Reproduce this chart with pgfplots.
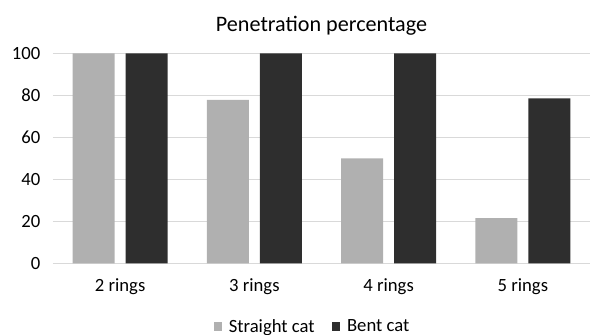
\documentclass[border=0pt]{standalone}
\usepackage{pgfplots}
\pgfplotsset{compat=1.18}
\usepackage{fontspec}
\setmainfont{Carlito}
\definecolor{lightbar}{HTML}{B0B0B0}
\definecolor{darkbar}{HTML}{2E2E2E}
\definecolor{gridc}{HTML}{D9D9D9}
\begin{document}
\begin{tikzpicture}
\begin{axis}[
  name=ax,
  scale only axis,
  width=402.75pt, height=157.5pt,
  xmin=-0.5, xmax=3.5, ymin=0, ymax=100,
  ytick={0,20,...,100},
  xtick={0,1,2,3},
  xticklabels={2 rings,3 rings,4 rings,5 rings},
  axis x line*=bottom,
  axis y line*=left,
  x axis line style={gridc, line width=0.9pt, -},
  y axis line style={draw=none},
  ymajorgrids, grid style={gridc, line width=0.9pt},
  major tick length=0pt,
  tick label style={font=\fontsize{14}{16}\selectfont, text=black},
  yticklabel style={xshift=-6pt},
  xticklabel style={yshift=-8pt},
  /pgf/number format/assume math mode=true,
  ybar, bar width=0.313,
  title={Penetration percentage},
  title style={font=\fontsize{16.6}{19}\selectfont, yshift=4pt},
  legend style={at={(0.484,-0.24)}, anchor=north, draw=none, legend columns=2,
    font=\fontsize{14}{16}\selectfont, /tikz/every even column/.append style={column sep=11pt},
    /tikz/every odd column/.append style={column sep=3pt}},
  legend image code/.code={\fill[#1] (0pt,-3pt) rectangle (6.3pt,3.5pt);},
]
\addplot[draw=none, fill=lightbar, bar shift=-0.198] coordinates {(0,100) (1,77.8) (2,50) (3,21.5)};
\addplot[draw=none, fill=darkbar, bar shift=0.198] coordinates {(0,100) (1,100) (2,100) (3,78.6)};
\legend{Straight cat, Bent cat}
\end{axis}
\pgfresetboundingbox
\path[use as bounding box] ([shift={(-39.75pt,-53.75pt)}]ax.south west) rectangle ([shift={(9.75pt,40pt)}]ax.north east);
\end{tikzpicture}
\end{document}
